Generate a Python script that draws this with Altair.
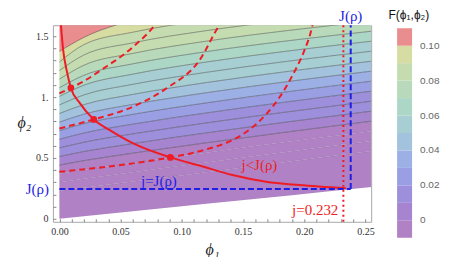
import altair as alt
import pandas as pd

# ---------------- data ----------------
# contour lines of F: phi2 values at these phi1 positions
phi1_grid = [0.0, 0.02, 0.06, 0.12, 0.19, 0.255]
lower_boundary = [0.0, 0.0204, 0.0612, 0.1224, 0.1938, 0.26]
upper_boundary = [2.0, 2.0, 2.0, 2.0, 2.0, 2.0]
contour_lines = [
    [0.2291, 0.2546, 0.3057, 0.3826, 0.4724, 0.5558],
    [0.2997, 0.3285, 0.3830, 0.4627, 0.5541, 0.6379],
    [0.3703, 0.4027, 0.4608, 0.5433, 0.6360, 0.7200],
    [0.4409, 0.4774, 0.5391, 0.6242, 0.7181, 0.8021],
    [0.5115, 0.5526, 0.6179, 0.7055, 0.8004, 0.8842],
    [0.5821, 0.6283, 0.6974, 0.7873, 0.8829, 0.9663],
    [0.6527, 0.7046, 0.7774, 0.8695, 0.9656, 1.0484],
    [0.7233, 0.7815, 0.8581, 0.9522, 1.0485, 1.1305],
    [0.7940, 0.8593, 0.9396, 1.0355, 1.1318, 1.2127],
    [0.8646, 0.9377, 1.0217, 1.1191, 1.2150, 1.2947],
    [0.9352, 1.0171, 1.1046, 1.2033, 1.2986, 1.3768],
    [1.0058, 1.0974, 1.1884, 1.2880, 1.3825, 1.4589],
    [1.0764, 1.1788, 1.2731, 1.3733, 1.4665, 1.5410],
    [1.1470, 1.2614, 1.3587, 1.4592, 1.5508, 1.6231],
    [1.2176, 1.3454, 1.4454, 1.5456, 1.6353, 1.7052],
    [1.2882, 1.4308, 1.5331, 1.6326, 1.7201, 1.7873],
    [1.3750, 1.4900, 1.6300, 1.7200, 1.8050, 1.8700],
]
contour_levels = [-0.023, -0.0154, -0.0077, 0.0, 0.0077, 0.0154, 0.0231, 0.0308,
                  0.0385, 0.0462, 0.0538, 0.0615, 0.0692, 0.0769, 0.0846, 0.0923, 0.1]
band_values = [-0.03, -0.019, -0.012, -0.004, 0.004, 0.012, 0.019, 0.027, 0.035,
               0.042, 0.051, 0.058, 0.065, 0.073, 0.081, 0.088, 0.096, 0.105]

legend_colors = ["#b081c4", "#a684cf", "#9d8fdb", "#9a9ee3", "#9db0e6", "#a2c2de",
                 "#a7cfd3", "#acd6c6", "#b8dabb", "#c5dcb0", "#d6dca2", "#ea8d8f"]

# red curves
solid_phi1 = [0.0012, 0.0031, 0.0059, 0.0094, 0.0167, 0.0281, 0.0412, 0.0599,
              0.0906, 0.1145, 0.1414, 0.1689, 0.196, 0.234]
solid_phi2 = [1.60, 1.385, 1.221, 1.075, 0.950, 0.816, 0.728, 0.621,
              0.504, 0.437, 0.359, 0.304, 0.277, 0.250]
dash1_phi1 = [0.0, 0.0094, 0.02, 0.033, 0.0599, 0.0778, 0.08]
dash1_phi2 = [1.03, 1.075, 1.13, 1.215, 1.41, 1.59, 1.62]
dash2_phi1 = [0.0, 0.0281, 0.0599, 0.0874, 0.1145, 0.1308, 0.133]
dash2_phi2 = [0.742, 0.816, 0.920, 1.071, 1.303, 1.59, 1.62]
dash3_phi1 = [0.0, 0.06, 0.0906, 0.12, 0.14, 0.155, 0.169, 0.18, 0.19, 0.2, 0.205, 0.207]
dash3_phi2 = [0.386, 0.455, 0.504, 0.57, 0.64, 0.73, 0.86, 1.0, 1.17, 1.38, 1.52, 1.6]
dots_phi1 = [0.0094, 0.0281, 0.0906]
dots_phi2 = [1.075, 0.816, 0.504]

J_x = 0.238
J_y = 0.244
j_value = 0.232

labels_blue = ["J(ρ)", "J(ρ)", "j=J(ρ)"]
labels_blue_phi1 = [0.238, -0.018, 0.0813]
labels_blue_phi2 = [1.664, 0.248, 0.312]
labels_red = ["j<J(ρ)", "j=0.232"]
labels_red_phi1 = [0.1634, 0.209]
labels_red_phi2 = [0.441, 0.0714]

x_ticks = [round(0.01 * i, 2) for i in range(26)]
y_ticks = [round(0.1 * i, 1) for i in range(16)]

SERIF = "Liberation Serif, Times New Roman, DejaVu Serif, serif"
SANS = "Liberation Sans, Arial, DejaVu Sans, sans-serif"

# ---------------- tables ----------------
band_rows = []
edges = [lower_boundary] + contour_lines + [upper_boundary]
for b in range(len(edges) - 1):
    for i, x in enumerate(phi1_grid):
        band_rows.append({"band": b, "phi1": x, "lo": edges[b][i], "hi": edges[b + 1][i],
                          "F": band_values[b]})
bands = pd.DataFrame(band_rows)

line_rows = []
for k, ys in enumerate(contour_lines):
    for x, y in zip(phi1_grid, ys):
        line_rows.append({"k": k, "phi1": x, "phi2": y, "level": contour_levels[k]})
lines = pd.DataFrame(line_rows)

solid = pd.DataFrame({"phi1": solid_phi1, "phi2": solid_phi2})
dashed = pd.concat([
    pd.DataFrame({"c": 1, "phi1": dash1_phi1, "phi2": dash1_phi2}),
    pd.DataFrame({"c": 2, "phi1": dash2_phi1, "phi2": dash2_phi2}),
    pd.DataFrame({"c": 3, "phi1": dash3_phi1, "phi2": dash3_phi2}),
])
dots = pd.DataFrame({"phi1": dots_phi1, "phi2": dots_phi2})
blue_rules = pd.DataFrame({"x": [0.0, J_x], "x2": [J_x, J_x],
                           "y": [J_y, J_y], "y2": [J_y, 1.59]})
red_rule = pd.DataFrame({"x": [j_value], "y": [-0.025], "y2": [1.59]})
tb = pd.DataFrame({"t": labels_blue, "phi1": labels_blue_phi1, "phi2": labels_blue_phi2})
tr = pd.DataFrame({"t": labels_red, "phi1": labels_red_phi1, "phi2": labels_red_phi2})
legend_title = pd.DataFrame({"t": ["F(ϕ₁,ϕ₂)"], "phi1": [0.2855], "phi2": [1.675]})

# ---------------- chart ----------------
xs = alt.Scale(domain=[-0.0053, 0.2547], nice=False, zero=False)
ys = alt.Scale(domain=[-0.025, 1.59], nice=False, zero=False)

x_axis = alt.Axis(values=x_ticks, grid=False, domain=False, tickColor="#888", tickSize=3,
                  offset=-3,
                  labelExpr="round(datum.value*100) % 5 == 0 ? format(datum.value, '.2f') : ''",
                  labelOverlap=False, labelFlush=False,
                  labelFont=SERIF, labelFontSize=10, labelColor="#333", labelPadding=5,
                  title="ϕ₁", titleFont=SERIF, titleFontStyle="italic",
                  titleFontWeight="normal", titleFontSize=16, titleColor="#222", titlePadding=5)
y_axis = alt.Axis(values=y_ticks, grid=False, domain=False, tickColor="#888", tickSize=3,
                  offset=-3,
                  labelExpr="round(datum.value*10) % 5 == 0 ? (round(datum.value*10) == 0 ? '0' : (round(datum.value*10) == 10 ? '1.' : format(datum.value, '.1f'))) : ''",
                  labelOverlap=False, labelFlush=False,
                  labelFont=SERIF, labelFontSize=10, labelColor="#333", labelPadding=5,
                  title="ϕ₂", titleFont=SERIF, titleFontStyle="italic",
                  titleFontWeight="normal", titleFontSize=16, titleColor="#222",
                  titleAngle=0, titleX=-32, titleY=97, titleAlign="center", titleBaseline="middle")

X = alt.X("phi1:Q", scale=xs, axis=x_axis)
Y = alt.Y("phi2:Q", scale=ys, axis=y_axis)

area = alt.Chart(bands).mark_area(interpolate="monotone", clip=True, opacity=1).encode(
    x=alt.X("phi1:Q", scale=xs, axis=x_axis),
    y=alt.Y("lo:Q", scale=ys, axis=y_axis),
    y2="hi:Q",
    detail="band:N",
    color=alt.Color("F:Q",
                    scale=alt.Scale(type="quantize", domain=[-0.01, 0.11], range=legend_colors),
                    legend=alt.Legend(orient="none", legendX=345, legendY=3, direction="vertical",
                                      type="gradient", title=None, gradientLength=210,
                                      gradientThickness=15, gradientStrokeWidth=0,
                                      labelExpr="abs(datum.value) < 1e-6 ? '0' : (round(datum.value*100) % 2 == 0 ? format(datum.value, '.2f') : '')",
                                      labelOverlap=False, labelFont=SANS,
                                      labelFontSize=10, labelColor="#666", labelOffset=8)),
)

contour = alt.Chart(lines).mark_line(interpolate="monotone", clip=True, color="#3c3c3c",
                                     strokeWidth=0.7).encode(
    x=X, y=Y, detail="k:N",
    opacity=alt.condition("datum.level < 0", alt.value(0.15), alt.value(0.7)),
)

red_solid = alt.Chart(solid).mark_line(interpolate="monotone", clip=True, color="#ee1c25",
                                       strokeWidth=2).encode(x=X, y=Y)
red_dashed = alt.Chart(dashed).mark_line(interpolate="monotone", clip=True, color="#ee1c25",
                                         strokeWidth=2, strokeDash=[6, 4]).encode(
    x=X, y=Y, detail="c:N")
red_dots = alt.Chart(dots).mark_circle(size=45, color="#ee1c25", opacity=1).encode(x=X, y=Y)

blue = alt.Chart(blue_rules).mark_rule(color="#1e1ee6", strokeWidth=2, strokeDash=[6, 3]).encode(
    x=alt.X("x:Q", scale=xs, axis=x_axis), x2="x2:Q",
    y=alt.Y("y:Q", scale=ys, axis=y_axis), y2="y2:Q")
reddot = alt.Chart(red_rule).mark_rule(color="#ee1c25", strokeWidth=2, strokeDash=[2, 3]).encode(
    x=alt.X("x:Q", scale=xs, axis=x_axis),
    y=alt.Y("y:Q", scale=ys, axis=y_axis), y2="y2:Q")

text_blue = alt.Chart(tb).mark_text(font=SERIF, fontSize=15, color="#1e1ee6",
                                    baseline="middle").encode(x=X, y=Y, text="t:N")
text_red = alt.Chart(tr).mark_text(font=SERIF, fontSize=15, color="#ee1c25",
                                   baseline="middle").encode(x=X, y=Y, text="t:N")
text_leg = alt.Chart(legend_title).mark_text(font=SANS, fontSize=12, color="#111",
                                             baseline="middle").encode(x=X, y=Y, text="t:N")

chart = alt.layer(area, contour, red_solid, red_dashed, blue, reddot, red_dots,
                  text_blue, text_red, text_leg).properties(
    width=319, height=197,
    autosize=alt.AutoSizeParams(type="none"),
    padding={"left": 45, "top": 17, "right": 70, "bottom": 35},
).configure_view(stroke="#a8a8a8", strokeWidth=1)

chart.save("out.html", embed_options={"renderer": "svg", "actions": False})
